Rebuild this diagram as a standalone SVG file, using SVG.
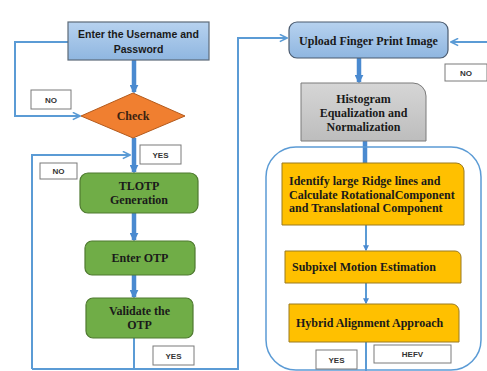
<svg xmlns="http://www.w3.org/2000/svg" width="487" height="371" viewBox="0 0 487 371">
<defs>
<linearGradient id="gBlue" x1="0" y1="0" x2="0" y2="1"><stop offset="0" stop-color="#b7d2ef"/><stop offset="1" stop-color="#8fb6e0"/></linearGradient>
<linearGradient id="gGray" x1="0" y1="0" x2="0" y2="1"><stop offset="0" stop-color="#d6d6d6"/><stop offset="1" stop-color="#bdbdbd"/></linearGradient>
<marker id="chev" viewBox="0 0 10 10" refX="9" refY="5" markerWidth="9" markerHeight="9" markerUnits="userSpaceOnUse" orient="auto">
<polyline points="1,1 9,5 1,9" fill="none" stroke="#5b9bd5" stroke-width="1.8"/>
</marker>
<marker id="tri" viewBox="0 0 10 10" refX="8" refY="5" markerWidth="9" markerHeight="9" markerUnits="userSpaceOnUse" orient="auto">
<path d="M0,0 L10,5 L0,10 Z" fill="#4a8ad0"/>
</marker>
<marker id="tris" viewBox="0 0 10 10" refX="8" refY="5" markerWidth="6" markerHeight="6" markerUnits="userSpaceOnUse" orient="auto">
<path d="M0,0 L10,5 L0,10 Z" fill="#4a8ad0"/>
</marker>
</defs>
<style>
.ln{fill:none;stroke:#5b9bd5;stroke-width:2}
.thick{fill:none;stroke:#4a8ad0;stroke-width:4.5}
.lbl{fill:#fff;stroke:#7a7a7a;stroke-width:1}
.lt{font-family:"Liberation Sans",Arial,sans-serif;font-weight:bold;font-size:8px;fill:#333;text-anchor:middle}
.st{font-family:"Liberation Serif","Times New Roman",serif;font-weight:bold;font-size:12px;fill:#1a1a1a;text-anchor:middle}
.grn{fill:#70ad47;stroke:#4f7a30;stroke-width:1.2}
.yel{fill:#ffc000;stroke:#9a7a20;stroke-width:1}
</style>
<g id="connectors">
<polyline class="ln" points="68,42 15,42 15,116 80,116" marker-end="url(#chev)"/>
<polyline class="ln" points="32,369 32,155 130,155" marker-end="url(#chev)"/>
<polyline class="ln" points="134,338 134,369"/>
<polyline class="ln" points="32,369 238,369 238,38 287,38" marker-end="url(#chev)"/>
<polyline class="ln" points="487,42 451,42" marker-end="url(#chev)"/>
<line class="thick" x1="134" y1="60" x2="134" y2="92" marker-end="url(#tri)"/>
<line class="thick" x1="134" y1="138" x2="134" y2="172" marker-end="url(#tri)"/>
<line class="thick" x1="134" y1="213" x2="134" y2="240" marker-end="url(#tri)"/>
<line class="thick" x1="134" y1="275" x2="134" y2="297" marker-end="url(#tri)"/>
<line class="thick" x1="359" y1="58" x2="359" y2="82" marker-end="url(#tri)"/>
<line class="thick" x1="365" y1="141" x2="365" y2="163"/>
<line class="ln" x1="366" y1="225" x2="366" y2="250" marker-end="url(#tris)" stroke-width="2.5"/>
<line class="ln" x1="366" y1="283" x2="366" y2="303" marker-end="url(#tris)" stroke-width="2.5"/>
<line class="ln" x1="366" y1="342" x2="366" y2="371" stroke-width="2.5"/>
<rect x="266" y="147" width="215" height="223" rx="30" fill="none" stroke="#5b9bd5" stroke-width="1.5"/>
</g>
<g id="n_enter_user">
<rect x="68" y="22" width="141" height="38" fill="url(#gBlue)" stroke="#5d6a78" stroke-width="1.2"/>
<text x="138.5" y="38" class="lt" style="font-size:10.5px;fill:#1a1a1a">Enter the Username and</text>
<text x="138.5" y="53" class="lt" style="font-size:10.5px;fill:#1a1a1a">Password</text>
</g>
<g id="n_check">
<polygon points="133,93 185,116 133,138 81,116" fill="#f07f30" stroke="#b35a1c" stroke-width="1"/>
<text x="133" y="120" class="st" style="fill:#3b2210">Check</text>
</g>
<g id="n_tlotp">
<rect x="80" y="173" width="118" height="40" rx="8" class="grn"/>
<text x="139" y="190" class="st">TLOTP</text>
<text x="139" y="204" class="st">Generation</text>
</g>
<g id="n_enter_otp">
<rect x="85" y="241" width="110" height="34" rx="7" class="grn"/>
<text x="140" y="262" class="st">Enter OTP</text>
</g>
<g id="n_validate">
<rect x="86" y="298" width="107" height="40" rx="7" class="grn"/>
<text x="139.5" y="315" class="st">Validate the</text>
<text x="139.5" y="329" class="st">OTP</text>
</g>
<g id="n_upload">
<rect x="289" y="22" width="159" height="36" rx="8" fill="url(#gBlue)" stroke="#4a5a6e" stroke-width="1.2"/>
<text x="368.5" y="45" class="st">Upload Finger Print Image</text>
</g>
<g id="n_hist">
<path d="M301,83 H413 A13,13 0 0 1 426,96 V141 H301 Z" fill="url(#gGray)" stroke="#7a7a7a" stroke-width="1"/>
<text x="363.5" y="103" class="st">Histogram</text>
<text x="363.5" y="117" class="st">Equalization and</text>
<text x="363.5" y="131" class="st">Normalization</text>
</g>
<g id="n_identify">
<path d="M282,163 H456 A8,8 0 0 1 464,171 V225 H282 Z" class="yel"/>
<text x="289" y="185" class="st" style="text-anchor:start">Identify large Ridge lines and</text>
<text x="289" y="198.5" class="st" style="text-anchor:start">Calculate RotationalComponent</text>
<text x="289" y="212" class="st" style="text-anchor:start">and Translational Component</text>
</g>
<g id="n_subpixel">
<path d="M285,251 H455 A6,6 0 0 1 461,257 V283 H285 Z" class="yel"/>
<text x="292" y="271" class="st" style="text-anchor:start">Subpixel Motion Estimation</text>
</g>
<g id="n_hybrid">
<path d="M289,304 H452 A7,7 0 0 1 459,311 V342 H289 Z" class="yel"/>
<text x="296" y="327" class="st" style="text-anchor:start">Hybrid Alignment Approach</text>
</g>
<g id="labels">
<rect x="31" y="90" width="40" height="19" class="lbl"/><text x="51" y="102.5" class="lt">NO</text>
<rect x="140" y="145" width="41" height="19" class="lbl"/><text x="160.5" y="157.5" class="lt">YES</text>
<rect x="40" y="163" width="37" height="16" class="lbl"/><text x="58.5" y="174" class="lt">NO</text>
<rect x="153" y="346" width="41" height="19" class="lbl"/><text x="173.5" y="358.5" class="lt">YES</text>
<rect x="445" y="64" width="42" height="17" class="lbl"/><text x="466" y="75.5" class="lt">NO</text>
<rect x="316" y="350" width="41" height="19" class="lbl"/><text x="336.5" y="362.5" class="lt">YES</text>
<rect x="374" y="345" width="77" height="18" class="lbl"/><text x="412.5" y="357" class="lt">HEFV</text>
</g>
</svg>
